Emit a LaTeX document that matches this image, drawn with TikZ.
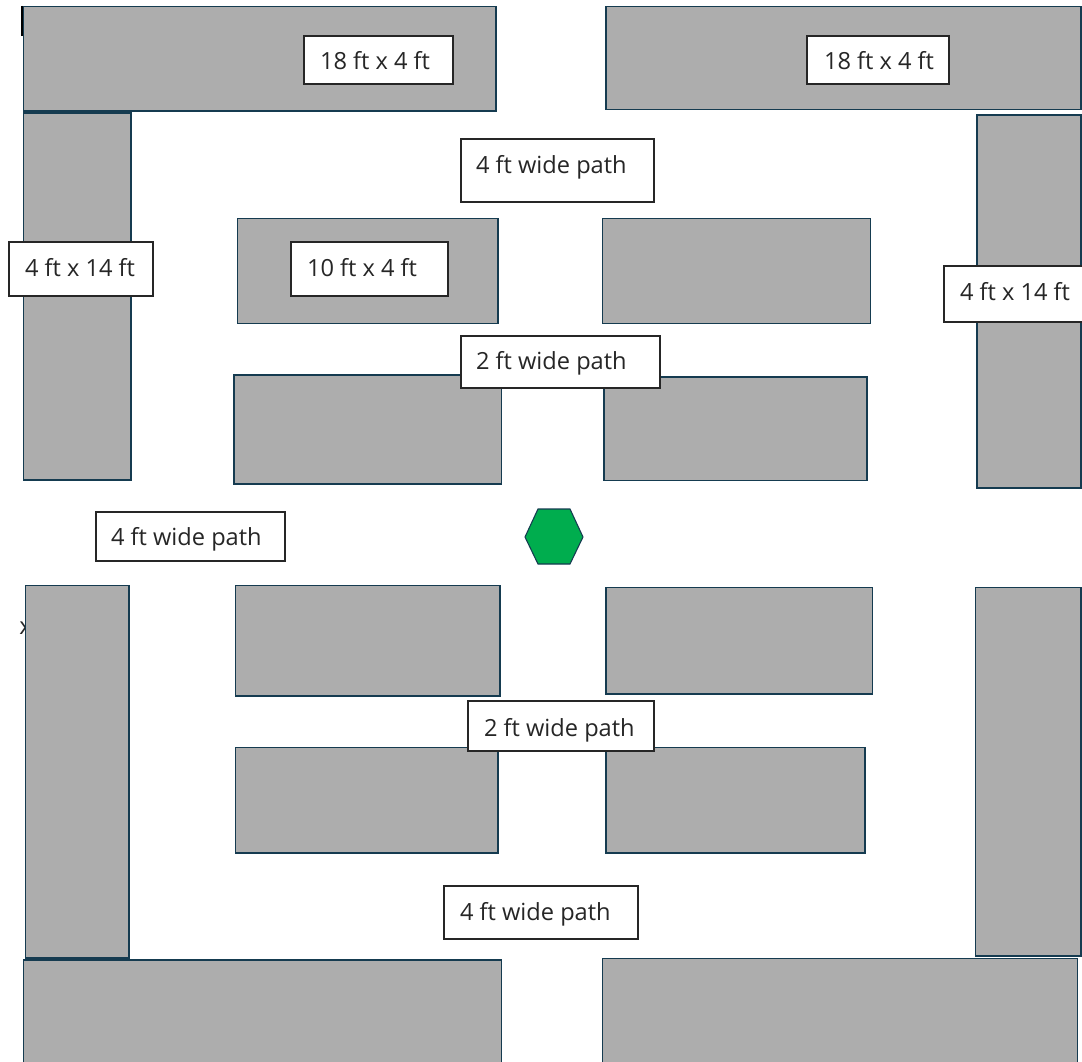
\documentclass[tikz,border=0pt]{standalone}
\usepackage{fontspec}
\setmainfont{Open Sans}
\definecolor{blockfill}{HTML}{ADADAD}
\definecolor{blockline}{HTML}{153B50}
\definecolor{hexfill}{HTML}{00AD4E}
\definecolor{labelink}{HTML}{262626}
\tikzset{
  blockbox/.style={draw=blockline,fill=blockfill,line width=0.85pt},
  labelbox/.style={draw=labelink,fill=white,line width=1pt},
  labeltext/.style={anchor=base west,inner sep=0pt,outer sep=0pt,text=labelink,font=\fontsize{17.7}{19}\selectfont},
  hexbox/.style={draw=blockline,fill=hexfill,line width=0.8pt,line join=miter}
}
\newcommand{\blockat}[4]{\draw[blockbox] (#1,#2) rectangle (#3,#4);}
\begin{document}
\begin{tikzpicture}[x=0.75pt,y=-0.75pt]
\useasboundingbox (0,0) rectangle (1082,1062);
\clip (0,0) rectangle (1082,1062);
\fill[white] (0,0) rectangle (1082,1062);
% stray marks peeking from behind the blocks
\draw[black,line width=1.4pt] (22,6) -- (22,36);
\node[anchor=base,inner sep=0pt,text=labelink,font=\fontsize{17.7}{19}\selectfont] (strayx) at (25.5,634) {x};
% blocks
\blockat{23.5}{6.5}{496}{111}
\blockat{606}{6.5}{1081}{109.5}
\blockat{23.5}{113}{131}{480}
\draw[blockline,line width=1.3pt] (23.5,112.5) -- (131,112.5);
\blockat{977}{115}{1081}{488}
\blockat{237.5}{218.5}{498}{323.5}
\blockat{602.5}{218.5}{870.5}{323.5}
\blockat{234}{375}{501.5}{484}
\blockat{604}{377}{867}{480.5}
\blockat{25.5}{585.5}{129}{958}
\blockat{975.5}{587.5}{1081}{956}
\blockat{235.5}{585.5}{500}{696}
\blockat{606}{587.5}{872.5}{694}
\blockat{235.5}{747.5}{498}{853}
\blockat{606}{747.5}{865}{853}
\blockat{23.5}{960}{501.5}{1070}
\blockat{602.5}{958.5}{1077.5}{1070}
% hexagon
\draw[hexbox] (525,537) -- (538,509) -- (570,509) -- (583,537) -- (570,564) -- (538,564) -- cycle;
% labels
\draw[labelbox] (304,36) rectangle (453,84);
\node[labeltext] (la) at (320,70) {18 ft x 4 ft};
\draw[labelbox] (807,36) rectangle (949,84);
\node[labeltext] (lb) at (824,70) {18 ft x 4 ft};
\draw[labelbox] (461,139) rectangle (654,202);
\node[labeltext] (lc) at (476,174) {4 ft wide path};
\draw[labelbox] (9,242) rectangle (153,296);
\node[labeltext] (ld) at (25,277) {4 ft x 14 ft};
\draw[labelbox] (291,242) rectangle (448,296);
\node[labeltext] (le) at (307,277) {10 ft x 4 ft};
\draw[labelbox] (944,266) rectangle (1083,322);
\node[labeltext] (lf) at (960,301) {4 ft x 14 ft};
\draw[labelbox] (461,336) rectangle (660,388);
\node[labeltext] (lg) at (476,370) {2 ft wide path};
\draw[labelbox] (96,512) rectangle (285,561);
\node[labeltext] (lh) at (111,545) {4 ft wide path};
\draw[labelbox] (468,701) rectangle (654,751);
\node[labeltext] (li) at (484,736) {2 ft wide path};
\draw[labelbox] (444,886) rectangle (638,939);
\node[labeltext] (lj) at (460,920) {4 ft wide path};
\end{tikzpicture}
\end{document}
